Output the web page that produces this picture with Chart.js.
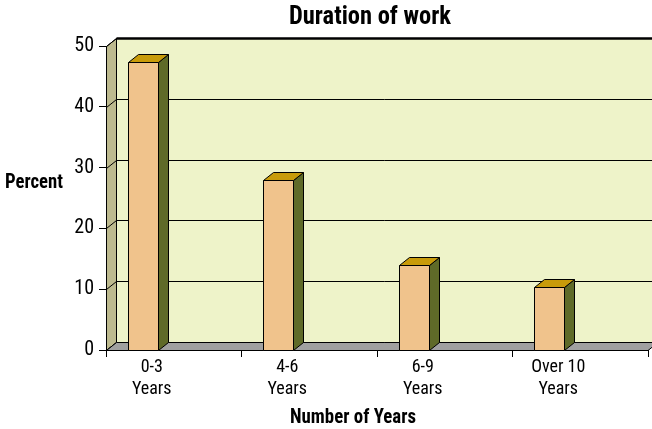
<!DOCTYPE html>
<html><head><meta charset="utf-8">
<script src="https://cdn.jsdelivr.net/npm/chart.js@4/dist/chart.umd.min.js"></script>
<style>html,body{margin:0;padding:0;background:#fff;overflow:hidden}#wrap{width:652px;height:429px;position:relative}</style>
</head><body><div id="wrap"><canvas id="c" width="652" height="429"></canvas></div>
<script>
const chartTitle = 'Duration of work';
const categories = [['0-3', 'Years'], ['4-6', 'Years'], ['6-9', 'Years'], ['Over 10', 'Years']];
const percentValues = [47.4, 28, 14, 10.4];
const yTickValues = [0, 10, 20, 30, 40, 50];
const xAxisTitle = 'Number of Years';
const yAxisTitle = 'Percent';

const FONT = "'Roboto Condensed','DejaVu Sans Condensed','Liberation Sans',sans-serif";
const DX = 10, DY = -8;
const C = {
  wall: '#EEF3C9', side: '#BDBA8F', floor: '#A0A0A0',
  front: '#F0C38C', top: '#C89B0A', barSide: '#5F6A28', line: '#000'
};

function poly(ctx, pts, fill, stroke, lw) {
  ctx.beginPath();
  ctx.moveTo(pts[0][0], pts[0][1]);
  for (let i = 1; i < pts.length; i++) ctx.lineTo(pts[i][0], pts[i][1]);
  ctx.closePath();
  if (fill) { ctx.fillStyle = fill; ctx.fill(); }
  if (stroke) { ctx.strokeStyle = stroke; ctx.lineWidth = lw || 1; ctx.stroke(); }
}

const threeD = {
  id: 'threeD',
  beforeDraw(chart) {
    const { ctx, chartArea: a, scales: { y } } = chart;
    const L = a.left + 0.5, R = a.right, T = a.top + 0.5, B = a.bottom + 0.5;
    ctx.save();
    poly(ctx, [[L, T], [L + DX, T + DY], [L + DX, B + DY], [L, B]], C.side, C.line, 1);
    poly(ctx, [[L + DX, T + DY], [R + DX + 20, T + DY], [R + DX + 20, B + DY], [L + DX, B + DY]], C.wall, C.line, 1);
    ctx.strokeStyle = C.line; ctx.lineWidth = 1;
    yTickValues.forEach(v => {
      const py = Math.round(y.getPixelForValue(v)) + 0.5;
      ctx.beginPath();
      ctx.moveTo(L, py); ctx.lineTo(L + DX, py + DY); ctx.lineTo(R + DX + 20, py + DY);
      ctx.stroke();
    });
    poly(ctx, [[L, B], [L + DX, B + DY], [R + DX, B + DY], [R, B]], C.floor, C.line, 1);
    ctx.beginPath(); ctx.lineWidth = 2.5;
    ctx.moveTo(L + DX, T + DY); ctx.lineTo(R + DX + 20, T + DY); ctx.stroke();
    ctx.restore();
  },
  afterDatasetsDraw(chart) {
    const { ctx, scales: { x } } = chart;
    const meta = chart.getDatasetMeta(0);
    const catW = x.width / categories.length;
    const shift = -0.23 * catW;
    ctx.save();
    meta.data.forEach(el => {
      const p = el.getProps(['x', 'y', 'base', 'width'], true);
      const x0 = Math.round(p.x + shift - p.width / 2) + 0.5;
      const x1 = x0 + Math.round(p.width);
      const t = Math.round(p.y) + 0.5, b = Math.round(p.base) + 0.5;
      poly(ctx, [[x1, t], [x1 + DX, t + DY], [x1 + DX, b + DY], [x1, b]], C.barSide, C.line, 1);
      poly(ctx, [[x0, t], [x0 + DX, t + DY], [x1 + DX, t + DY], [x1, t]], C.top, C.line, 1);
      poly(ctx, [[x0, t], [x1, t], [x1, b], [x0, b]], C.front, C.line, 1);
    });
    ctx.restore();
  },
  afterDraw(chart) {
    const { ctx } = chart;
    ctx.save();
    ctx.fillStyle = '#000';
    ctx.textBaseline = 'middle';
    ctx.textAlign = 'center';
    ctx.font = "bold 25px " + FONT;
    ctx.fillText(chartTitle, 370, 18, 162);
    ctx.font = "bold 20px " + FONT;
    ctx.fillText(xAxisTitle, 353, 418, 126);
    ctx.textAlign = 'left';
    ctx.fillText(yAxisTitle, 5, 183, 58);
    ctx.restore();
  }
};

new Chart(document.getElementById('c'), {
  type: 'bar',
  data: {
    labels: categories,
    datasets: [{ data: percentValues, backgroundColor: 'rgba(0,0,0,0)', borderWidth: 0, barThickness: 30 }]
  },
  options: {
    responsive: false, animation: false, devicePixelRatio: 1,
    layout: { padding: { top: 46, right: 4, left: 0, bottom: 0 } },
    plugins: { legend: { display: false }, tooltip: { enabled: false }, title: { display: false } },
    scales: {
      x: {
        afterFit: s => { s.height = 79; },
        grid: { offset: true, drawOnChartArea: false, drawTicks: true, tickLength: 7, color: '#000' },
        border: { display: true, color: '#000', width: 1 },
        ticks: { color: '#000', font: { family: FONT, size: 18, lineHeight: '22px' }, padding: -1, labelOffset: -22, maxRotation: 0, autoSkip: false }
      },
      y: {
        min: 0, max: 50,
        afterFit: s => { s.width = 106; },
        afterBuildTicks: s => { s.ticks = yTickValues.map(v => ({ value: v })); },
        grid: { drawOnChartArea: false, drawTicks: true, tickLength: 7, color: '#000' },
        border: { display: true, color: '#000', width: 1 },
        ticks: { color: '#000', font: { family: FONT, size: 20 }, padding: 5 }
      }
    }
  },
  plugins: [threeD]
});
</script></body></html>
